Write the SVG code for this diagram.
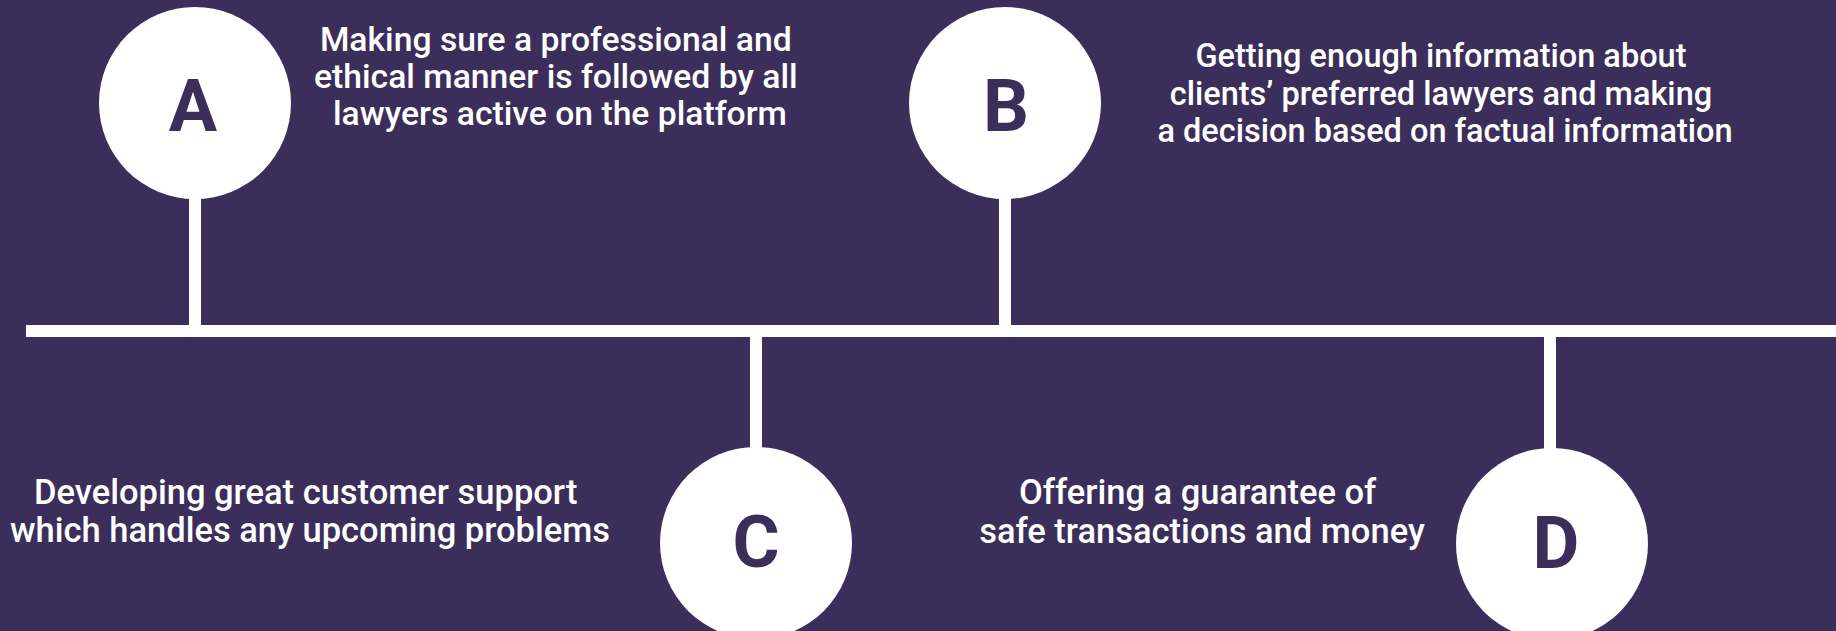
<svg xmlns="http://www.w3.org/2000/svg" width="1836" height="631" viewBox="0 0 1836 631">
  <style>
    .bg { fill: #3c2e5a; }
    .node-circle { fill: #ffffff; }
    .letter { font-family: Roboto, "Liberation Sans", sans-serif; font-weight: 700; font-size: 72px; fill: #3c2e5a; text-anchor: middle; }
    .desc { font-family: Roboto, "Liberation Sans", sans-serif; font-weight: 500; font-size: 34.5px; fill: #ffffff; text-anchor: middle; }
    .desc-a { font-size: 33.7px; }
    .desc-b { font-size: 32.5px; }
    .stem { stroke: #ffffff; stroke-width: 12; fill: none; }
  </style>
  <rect class="bg" x="0" y="0" width="1836" height="631"/>

  <g id="connectors">
    <rect x="26" y="325" width="1810" height="12" fill="#ffffff"/>
    <line class="stem" x1="195" y1="180" x2="195" y2="326"/>
    <line class="stem" x1="1005" y1="180" x2="1005" y2="326"/>
    <line class="stem" x1="756" y1="336" x2="756" y2="470"/>
    <line class="stem" x1="1550" y1="336" x2="1550" y2="470"/>
  </g>

  <g id="node-a">
    <circle class="node-circle" cx="195" cy="103" r="96"/>
    <text class="letter" x="193" y="131">A</text>
    <text class="desc desc-a" x="560">
      <tspan x="560" y="51">Making sure a professional and</tspan>
      <tspan x="560" y="88">ethical manner is followed by all</tspan>
      <tspan x="560" y="125">lawyers active on the platform</tspan>
    </text>
  </g>

  <g id="node-b">
    <circle class="node-circle" cx="1005" cy="103" r="96"/>
    <text class="letter" x="1006" y="131">B</text>
    <text class="desc desc-b" x="1445">
      <tspan x="1445" y="67">Getting enough information about</tspan>
      <tspan x="1445" y="104.5">clients’ preferred lawyers and making</tspan>
      <tspan x="1445" y="142">a decision based on factual information</tspan>
    </text>
  </g>

  <g id="node-c">
    <circle class="node-circle" cx="756" cy="543" r="96"/>
    <text class="letter" x="756" y="567">C</text>
    <text class="desc" x="310">
      <tspan x="310" y="504">Developing great customer support</tspan>
      <tspan x="310" y="542">which handles any upcoming problems</tspan>
    </text>
  </g>

  <g id="node-d">
    <circle class="node-circle" cx="1552" cy="544" r="96"/>
    <text class="letter" x="1556" y="568">D</text>
    <text class="desc" x="1202">
      <tspan x="1202" y="504">Offering a guarantee of</tspan>
      <tspan x="1202" y="543">safe transactions and money</tspan>
    </text>
  </g>
</svg>
